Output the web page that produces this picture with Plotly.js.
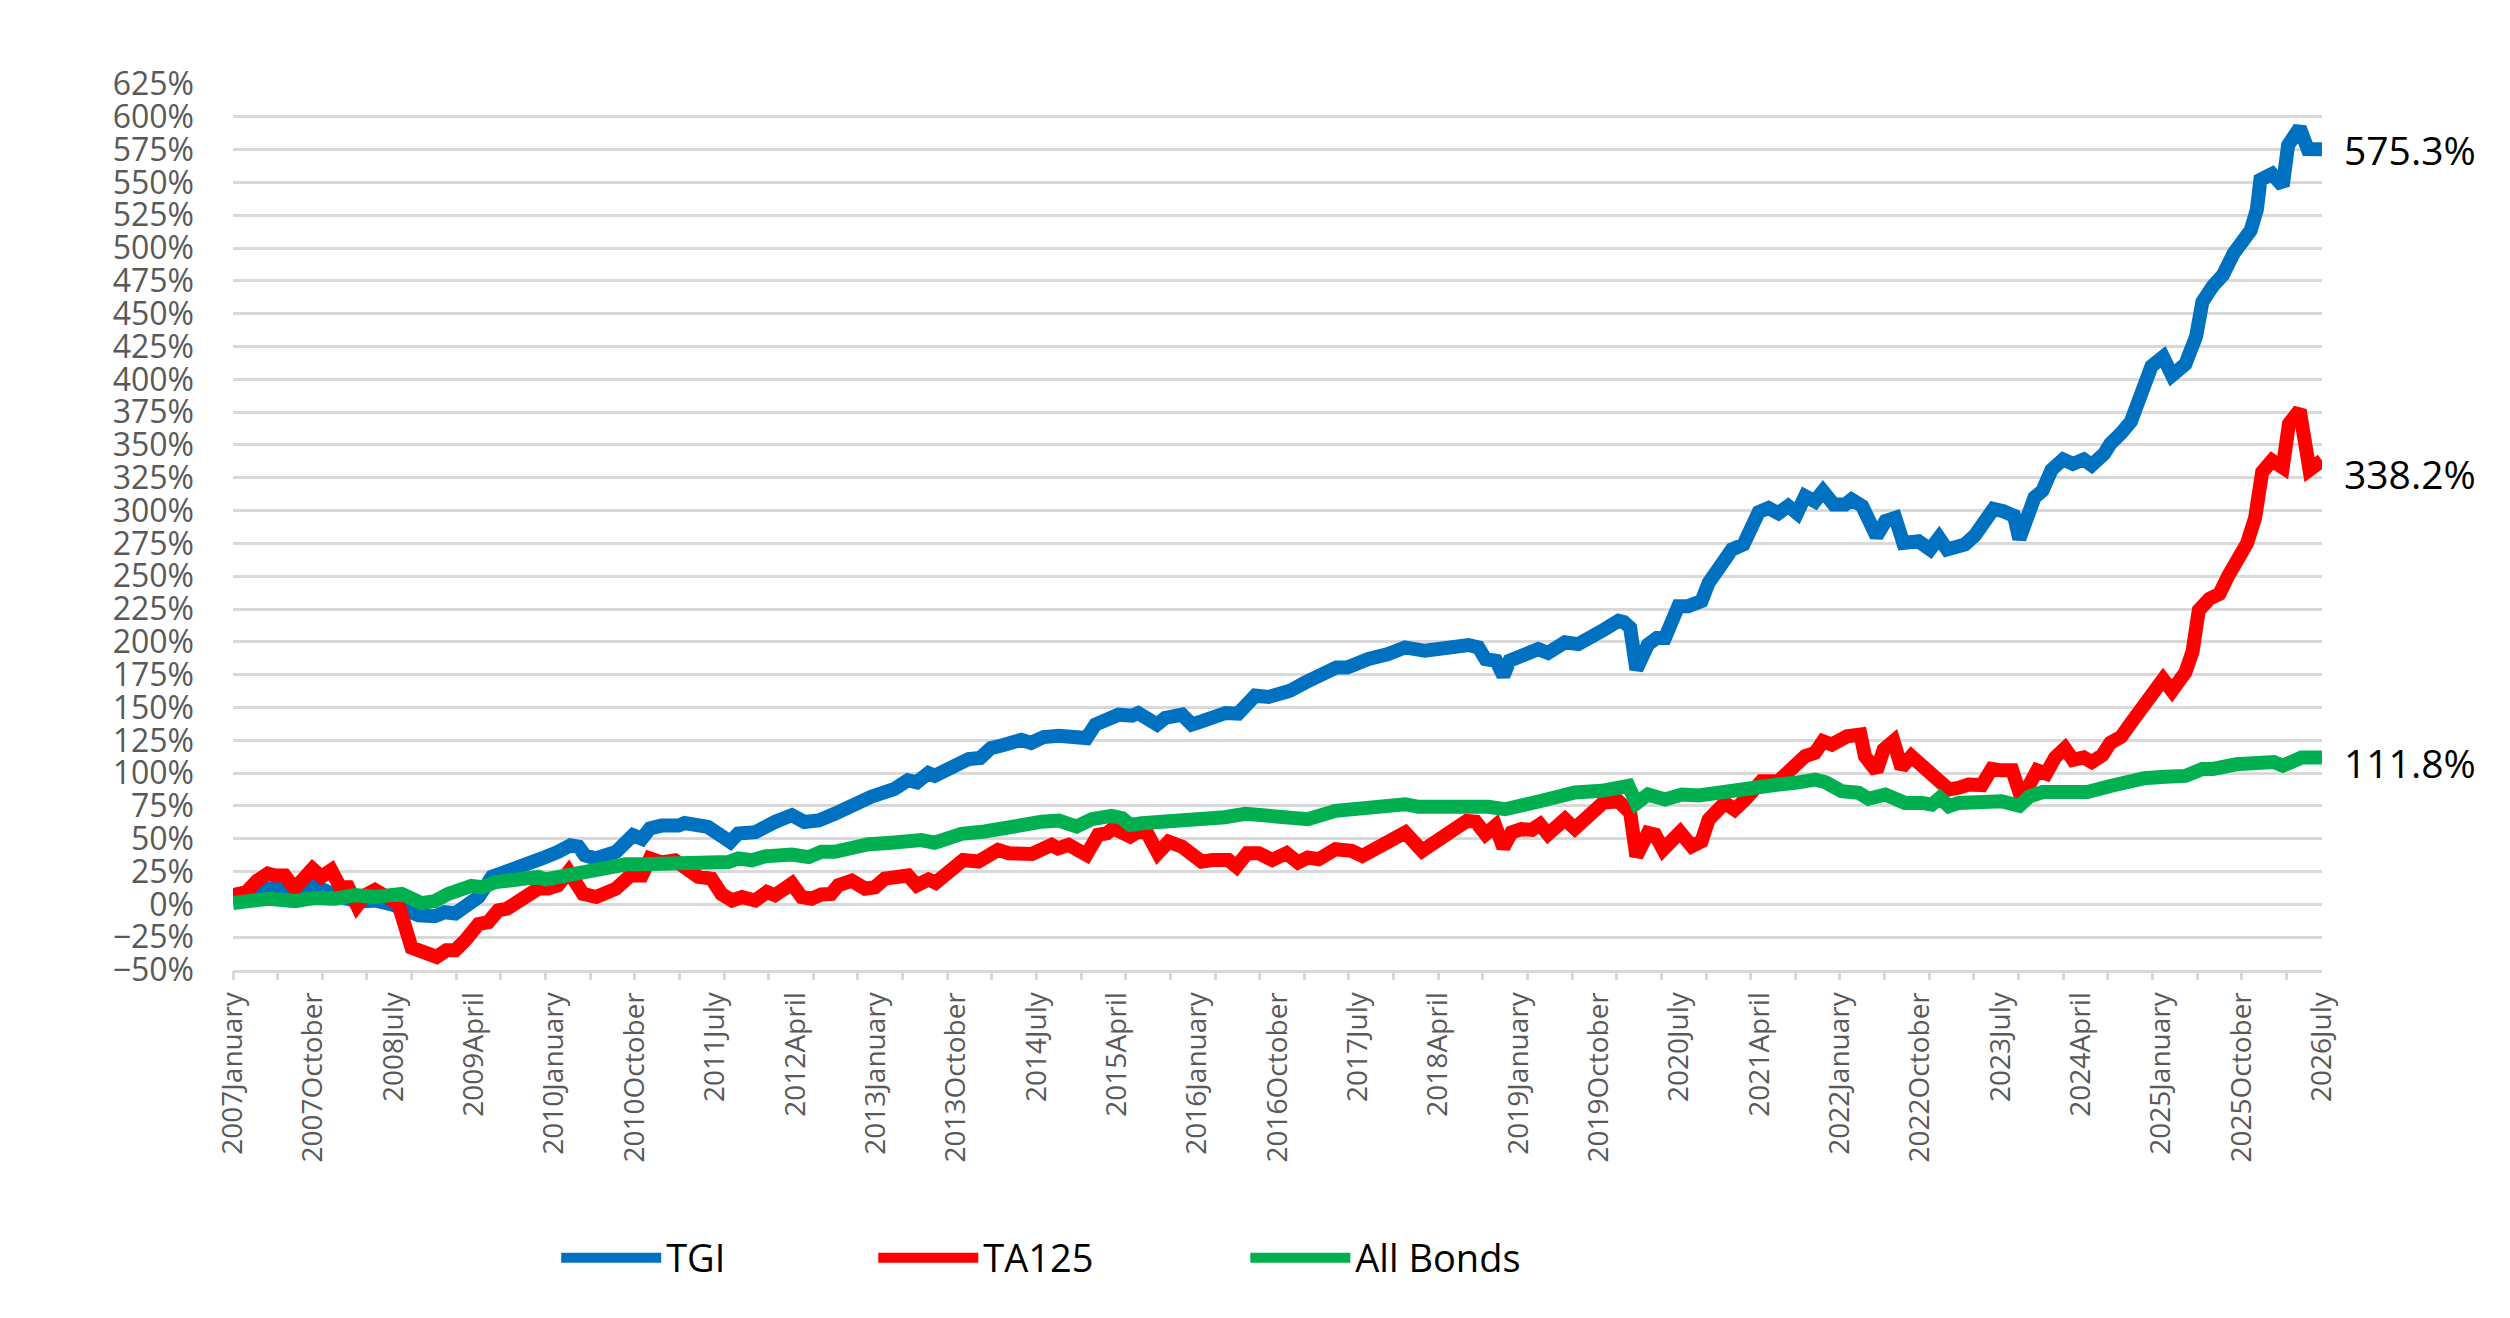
<!DOCTYPE html>
<html>
<head>
<meta charset="utf-8">
<script src="https://cdn.plot.ly/plotly-3.0.1.min.js"></script>
<style>
  html, body { margin: 0; padding: 0; background: #ffffff; }
  #chart { width: 2510px; height: 1318px; }
</style>
</head>
<body>
<div id="chart"></div>
<script>
// x = month index counted from 2007 January (0) to 2026 July (234)
const tickLabels = ["2007January","2007October","2008July","2009April","2010January","2010October",
  "2011July","2012April","2013January","2013October","2014July","2015April","2016January",
  "2016October","2017July","2018April","2019January","2019October","2020July","2021April",
  "2022January","2022October","2023July","2024April","2025January","2025October","2026July"];

const tgiMonth = [0,2.8,4.0,5.6,6.9,8.8,10.3,11.4,14.0,15.9,17.8,19.3,20.8,22.6,23.7,24.9,26.0,27.5,29.0,30.8,
  32.7,34.6,36.4,37.8,38.7,39.4,40.6,42.1,42.9,44.8,45.8,46.7,48.0,49.9,50.6,53.2,54.3,55.7,56.6,58.5,
  60.7,62.6,64.0,65.6,67.4,69.3,70.4,71.5,74.1,75.6,76.6,77.9,78.6,79.8,81.3,82.4,83.7,84.9,86.4,88.3,
  89.4,90.8,92.5,94.0,95.6,96.6,98.1,99.2,100.7,101.4,103.5,104.4,106.3,107.4,108.5,109.7,111.2,112.6,114.5,116.0,
  117.9,118.4,120.1,121.6,122.7,123.6,124.8,126.1,127.2,129.4,131.3,133.5,135.4,137.3,138.4,139.5,140.3,141.5,142.3,143.0,
  144.3,146.2,147.3,149.2,150.7,151.6,153.7,155.2,155.8,156.5,157.2,158.5,159.5,160.4,161.9,163.0,164.5,165.3,166.4,167.9,
  169.2,170.9,172.0,173.1,174.2,175.2,176.1,177.2,178.1,179.3,180.6,181.3,182.5,183.0,184.1,185.1,186.2,187.1,188.8,190.1,
  191.1,192.0,194.0,195.1,196.4,197.2,198.3,199.5,200.1,201.8,202.7,203.7,205.0,206.1,207.3,208.2,209.6,210.3,211.5,212.6,
  214.9,216.2,217.2,218.7,219.9,220.6,221.8,222.9,224.1,225.2,226.0,226.7,227.1,228.4,229.6,230.2,231.5,232.4,234];
const tgiValue = [3,7,12,12,9,14.5,10.7,7,2,3,0,-3,-8.4,-9,-6,-7,-1,5.6,21,25,
  28.6,35,40,45,44,37.5,35,40,40,52.7,50,57.8,60,60,62,59,55,47.6,54,55,
  62.8,68,62.8,64,69,75.6,77,82,88,94.6,93,100,98,102.5,107.6,110.7,111.5,119,121.6,125.4,
  123,127.5,128.5,128.5,126.7,137,141,144.5,143.8,145.8,137,142,144.5,137,139.4,143,145.8,145.3,159,158,
  161,162.7,169,172.9,175.4,180.5,180.5,184.3,186.9,190.7,195.8,193.2,195,194.5,197.6,195.8,186.9,185.6,174.2,185.6,
  189.4,194.5,191.5,199.6,198.3,200.9,209.8,216.1,215,210.7,179,198,203,203,227.2,227.2,231,245,257.7,270.4,
  274.2,298.8,302,298,303.4,298,311,307,314.8,304.7,304.7,308.5,303.4,294.5,280.5,292,294.5,275.4,276.7,270.4,
  279.3,270.4,274.2,281,292,301.3,299.5,296,278.5,310,315.3,331,339,335.6,339,334.6,343.3,351,359,367.9,
  410,417,403,411.7,432.7,459,471.3,479.4,495.9,506.4,513.4,529.2,552,556.5,547.4,578.3,591.6,575.5,575.3];

const ta125Month = [0,1.5,2.7,3.9,4.7,5.8,6.9,8.9,9.9,11.0,12.0,12.9,13.9,14.8,15.9,16.8,18.5,20.0,21.5,22.8,
  23.9,24.9,26.0,27.5,28.6,29.7,30.7,32.0,33.0,34.2,35.3,36.4,37.6,38.3,39.2,40.7,42.0,42.9,44.5,45.8,
  46.7,48.0,49.5,50.6,52.1,53.6,54.7,55.9,57.0,58.5,59.8,60.7,62.6,63.7,64.8,65.9,67.0,67.8,69.3,70.8,
  71.9,73.0,74.5,75.6,76.6,77.9,78.7,79.8,80.9,81.8,83.5,84.9,85.7,86.9,89.5,91.7,92.4,93.6,95.6,96.9,
  97.9,98.6,100.5,101.4,102.4,103.6,104.8,106.3,108.5,109.7,111.5,112.4,113.6,114.9,116.4,118.0,119.3,120.4,121.6,123.5,
  125.3,126.5,128.0,129.4,131.3,133.2,135.4,137.1,138.2,139.2,140.3,141.4,142.3,143.2,144.3,145.5,146.4,147.3,149.2,150.3,
  152.6,153.5,155.2,156.5,157.2,158.5,159.3,160.2,162.1,163.4,164.5,165.3,167.1,168.2,169.4,171.2,173.1,174.6,176.1,177.2,
  178.1,179.1,180.8,182.3,182.8,184.1,184.9,186.0,186.9,188.0,189.9,190.8,192.2,193.3,194.4,195.9,197.0,198.1,199.3,200.1,
  201.2,202.1,203.1,204.1,205.2,206.1,207.3,208.2,209.4,210.3,211.5,212.6,213.8,214.9,216.2,217.2,218.7,219.5,220.2,221.4,
  222.5,223.5,224.4,225.6,226.5,227.3,228.4,229.6,230.3,231.5,232.6,234];
const ta125Value = [6.9,9.4,18,23.5,22,22,12,27,21,26,13,13,-1,7,11,7,0.5,-33,-38,-40,
  -35,-35,-27.5,-15,-13.5,-4.6,-3.3,2,5.6,12,12,14.5,25,17,8,5.6,9.4,12,22,22,
  35,32,33.6,28.5,21,19.6,8,3,5.6,3,9.4,7,15.8,5.6,4.3,7.6,8,14.5,18,12,
  13,19.6,19.6,22,14.5,19,16.5,23.7,27.5,33.8,32.6,39.4,41.5,39,38.4,45.3,42.7,45.3,37.7,53,
  54.2,58,51.7,55.5,54.2,39,47.8,44,32.6,33.8,33.8,28.8,39,39,33.8,39,31.9,35.7,34.4,42,
  40.8,37,42.5,45,54.7,40.8,50.2,56,63.6,63,53.5,59.8,43.3,54.7,57.3,56.8,61,53.5,64.9,57.8,
  72.5,77.6,78.5,70,36.7,54.5,53.2,41.8,55,44.3,48.1,64.6,77.3,72.2,79.9,93.8,93.8,102.7,112.9,115.4,
  124.3,121.8,128.1,129.4,112.9,101.5,118,124.3,104,112.9,100.2,97.6,87.5,88.8,91.3,90.9,103.2,102.1,102.1,85.6,
  90.9,102.1,99.6,111.9,118.9,110.1,111.9,108.4,113.7,123.1,127.7,138.2,148.7,161,171.5,162.7,176.8,192.6,224.1,232.9,
  236.4,250.4,259.2,275,294.2,329.3,338.1,332.8,366.1,376.6,331.1,338.2];

const bondsMonth = [0,2.1,4.0,6.9,9.2,11.4,13.7,15.9,18.9,21.1,22.6,24.1,26.7,27.9,29.4,31.2,34.2,35.0,37.2,39.4,
  40.6,42.1,44.0,45.8,47.6,51.4,53.2,55.5,56.6,58.1,59.6,62.6,64.5,65.9,67.4,69.3,71.2,73.4,75.6,77.1,
  78.6,79.8,81.6,84.2,86.4,87.6,89.1,90.6,92.5,94.5,96.2,98.4,99.6,100.5,101.8,104.4,106.6,111.1,113.4,116.0,
  117.9,120.4,123.5,126.1,128.0,131.3,132.8,135.4,137.7,138.8,140.6,142.5,144.3,146.6,148.5,150.3,153.3,155.6,156.3,157.2,
  158.5,160.4,162.3,164.2,167.1,169.0,170.9,173.1,175.0,177.2,178.4,180.2,182.1,183.2,185.1,187.3,189.2,190.3,191.2,192.2,
  193.3,195.1,196.6,198.1,200.1,201.2,202.7,205.0,207.7,210.3,212.6,214.1,216.4,218.7,220.6,221.8,224.4,227.5,228.6,229.6,
  230.5,231.7,234];
const bondsValue = [1,2,4.3,2.5,5,4.3,7,5.6,8,1,2.5,8,14,13,17,18.4,21,19,22,23.5,
  24.7,27,30.5,30.5,31,29.8,31,32.3,35,33.6,36.6,38,36,40,40,44.3,45.8,46.8,49.4,49,
  47,50.4,53.7,55.5,58.8,60.6,60.6,63,63.9,59.3,64.9,67.4,65.6,60.6,61.8,63,63,66.4,69,67.4,
  65.5,64.9,71.3,73,73,76.3,74.3,75,73.8,76,74.3,72.5,76.3,78.9,82.2,85.2,86.5,87.8,90.3,77,
  83.7,79.9,83.7,83,86.2,88.8,88.8,91.3,92.6,95.1,93,86.2,85,80.4,83.7,77.3,77.3,76,81.1,74.8,
  77.3,78,78.6,78.6,75.1,82.1,85.6,86.7,85.6,90.2,94.4,96.1,97.2,97.9,103.2,103.2,106.7,108.4,108.4,105.6,
  108.4,111.9,111.8];

const seriesNames = ["TGI", "TA125", "All Bonds"];
const seriesColors = ["#0070C0", "#FF0000", "#00B050"];
const labelShift = [0, -13, -5];

const FONT = "Open Sans, Noto Sans, DejaVu Sans, sans-serif";
const xs = [tgiMonth, ta125Month, bondsMonth];
const ys = [tgiValue, ta125Value, bondsValue];
const legendIds = ["legend", "legend2", "legend3"];

const traces = seriesNames.map((name, i) => ({
  type: "scatter",
  mode: "lines",
  name: name,
  x: xs[i],
  y: ys[i],
  line: { color: seriesColors[i], width: 14 },
  legend: legendIds[i],
  hoverinfo: "skip"
}));
// helper trace so the tick-mark axis (every 5 months) is drawn
traces.push({ type: "scatter", mode: "lines", x: [0, 234], y: [null, null], xaxis: "x2",
  showlegend: false, hoverinfo: "skip" });

const annotations = seriesNames.map((name, i) => {
  const v = ys[i][ys[i].length - 1];
  return {
    x: xs[i][xs[i].length - 1], y: v, xref: "x", yref: "y",
    text: v.toFixed(1) + "%", showarrow: false,
    xanchor: "left", yanchor: "middle", xshift: 20, yshift: labelShift[i],
    font: { family: FONT, size: 39, color: "#000000" }
  };
});

const tickVals = tickLabels.map((_, i) => i * 9);

const legendBase = {
  orientation: "h", yanchor: "middle", y: -0.325, xanchor: "left",
  font: { family: FONT, size: 38, color: "#000000" },
  itemwidth: 100, bgcolor: "rgba(0,0,0,0)", borderwidth: 0, tracegroupgap: 0
};

const layout = {
  width: 2510, height: 1318,
  margin: { l: 233, r: 188, t: 84, b: 348, pad: 0 },
  paper_bgcolor: "#ffffff", plot_bgcolor: "#ffffff",
  showlegend: true,
  xaxis: {
    range: [0, 234], tickmode: "array", tickvals: tickVals, ticktext: tickLabels,
    tickangle: -90, ticks: "", showgrid: false, zeroline: false,
    showline: true, linecolor: "#D9D9D9", linewidth: 3,
    tickfont: { family: FONT, size: 28, color: "#595959" },
    ticklabelstandoff: 8, automargin: false
  },
  xaxis2: {
    overlaying: "x", anchor: "y", side: "bottom", range: [0, 234],
    tickmode: "linear", tick0: 0, dtick: 5, ticks: "outside", ticklen: 9,
    tickwidth: 3, tickcolor: "#D9D9D9", showticklabels: false,
    showgrid: false, zeroline: false, showline: false, automargin: false
  },
  yaxis: {
    range: [-50, 625], tickmode: "linear", tick0: 0, dtick: 25, ticksuffix: "%",
    showgrid: true, gridcolor: "#D9D9D9", gridwidth: 3, zeroline: false,
    showline: false, ticks: "",
    tickfont: { family: FONT, size: 32, color: "#595959" },
    ticklabelstandoff: 38, automargin: false
  },
  legend: Object.assign({}, legendBase, { x: 0.1547 }),
  legend2: Object.assign({}, legendBase, { x: 0.3065 }),
  legend3: Object.assign({}, legendBase, { x: 0.4846 }),
  annotations: annotations
};

Plotly.newPlot("chart", traces, layout, { staticPlot: true, displayModeBar: false });
</script>
</body>
</html>
